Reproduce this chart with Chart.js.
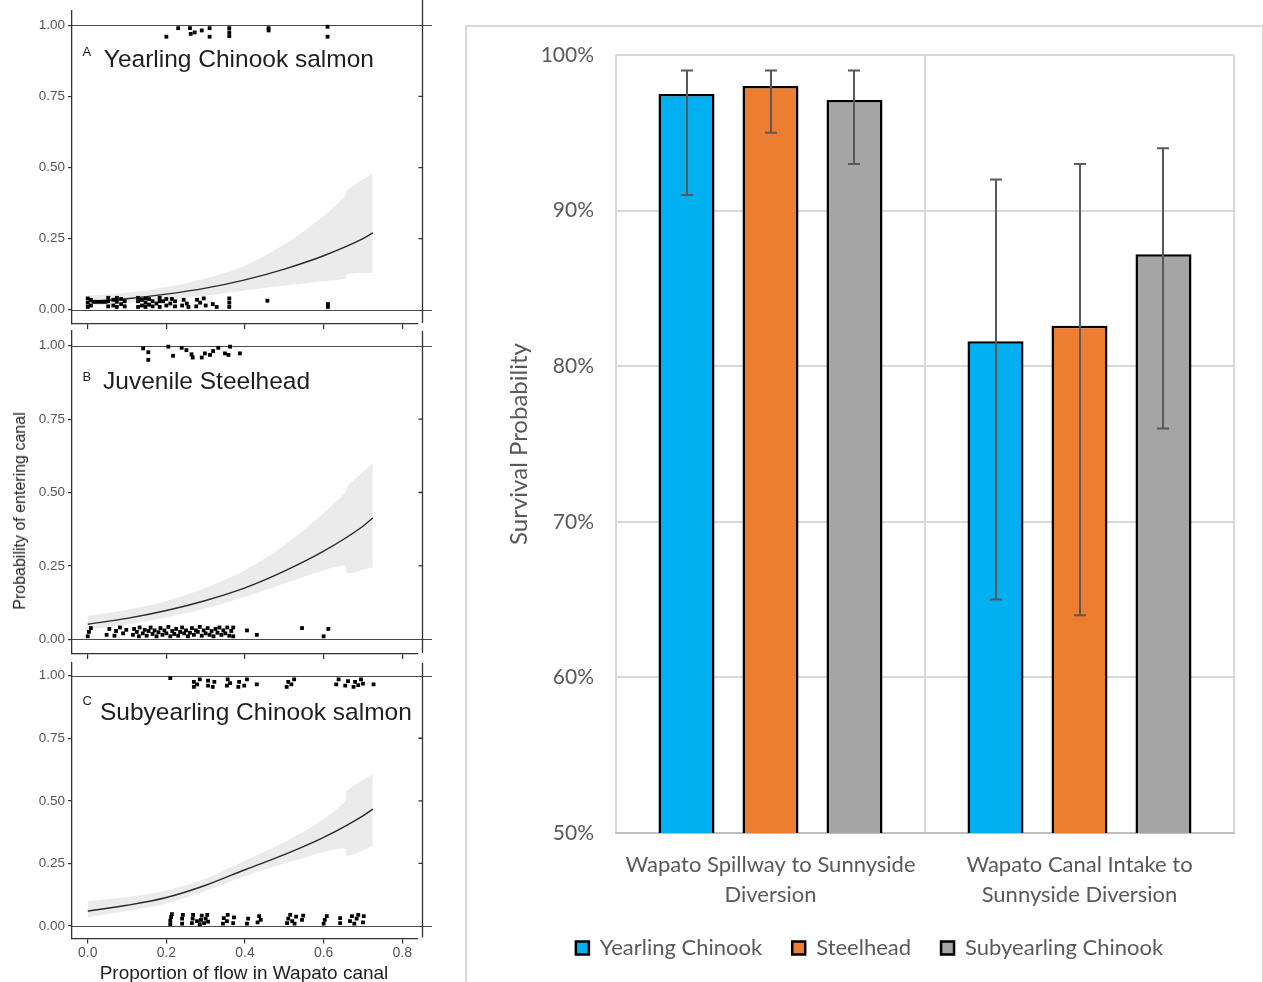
<!DOCTYPE html>
<html>
<head>
<meta charset="utf-8">
<title>Canal entry probability and survival</title>
<script src="https://cdn.jsdelivr.net/npm/chart.js@4.4.1/dist/chart.umd.min.js"></script>
<style>
  html, body { margin: 0; padding: 0; background: #fff; width: 1263px; height: 982px; overflow: hidden; }
  canvas, .txt, #frame { position: absolute; }
  .soft { filter: blur(0.45px); }
  #frame { left: 465px; top: 25px; width: 795px; height: 1000px; border: 2px solid #d9d9d9; }
  .txt { font-family: "Liberation Sans", Arial, sans-serif; color: #1e1e1e; white-space: nowrap; }
  #probTitle { left: 20px; top: 511px; font-size: 16px; transform: translate(-50%, -50%) rotate(-90deg); }
  #flowTitle { left: 244px; top: 973px; font-size: 19px; transform: translate(-50%, -50%); }
</style>
</head>
<body>
<div id="frame"></div>
<canvas id="panelA" class="soft" width="432" height="336" style="left:0;top:0"></canvas>
<canvas id="panelB" class="soft" width="432" height="345" style="left:0;top:320px"></canvas>
<canvas id="panelC" class="soft" width="432" height="330" style="left:0;top:652px"></canvas>
<div id="probTitle" class="txt soft">Probability of entering canal</div>
<div id="flowTitle" class="txt soft">Proportion of flow in Wapato canal</div>
<canvas id="survival" width="797" height="943" style="left:466px;top:26px"></canvas>

<script>
// ---- Canal entry panels: axis ticks ----
const flowTicks = [0, 0.2, 0.4, 0.6, 0.8];
const flowTickLabels = ['0.0', '0.2', '0.4', '0.6', '0.8'];
const probTicks = [0, 0.25, 0.5, 0.75, 1];
const probTickLabels = ['0.00', '0.25', '0.50', '0.75', '1.00'];

// ---- Fitted logistic curves (probability of entering canal) ----
const fitFlow = [0, 0.1, 0.2, 0.3, 0.4, 0.5, 0.6, 0.7, 0.725];
const yearlingFit    = [0.028, 0.039, 0.055, 0.076, 0.105, 0.143, 0.190, 0.250, 0.270];
const steelheadFit   = [0.051, 0.071, 0.098, 0.132, 0.175, 0.232, 0.300, 0.385, 0.413];
const subyearlingFit = [0.060, 0.083, 0.114, 0.163, 0.225, 0.285, 0.354, 0.440, 0.467];

// ---- Confidence bands ----
const bandFlow = [0, 0.1, 0.2, 0.3, 0.4, 0.5, 0.6, 0.655, 0.66, 0.725];
const yearlingLower    = [0.015, 0.024, 0.035, 0.050, 0.068, 0.085, 0.100, 0.110, 0.125, 0.130];
const yearlingUpper    = [0.050, 0.060, 0.080, 0.110, 0.155, 0.230, 0.330, 0.400, 0.420, 0.480];
const steelheadLower   = [0.032, 0.050, 0.075, 0.105, 0.145, 0.190, 0.235, 0.250, 0.225, 0.245];
const steelheadUpper   = [0.080, 0.100, 0.130, 0.175, 0.235, 0.320, 0.430, 0.500, 0.520, 0.600];
const subyearlingLower = [0.035, 0.060, 0.090, 0.140, 0.200, 0.250, 0.295, 0.310, 0.280, 0.320];
const subyearlingUpper = [0.100, 0.115, 0.143, 0.190, 0.262, 0.335, 0.427, 0.500, 0.540, 0.606];

// ---- Individual fish: [flow proportion, jittered outcome] ----
const yearlingEntered = [[0.200,0.960],[0.230,0.990],[0.260,0.990],[0.262,0.970],[0.272,0.975],[0.290,0.982],
  [0.310,0.990],[0.310,0.960],[0.360,0.990],[0.360,0.975],[0.360,0.962],[0.460,0.990],[0.460,0.982],
  [0.610,0.995],[0.610,0.960]];
const yearlingStayed = [[0.000,0.010],[0.000,0.025],[0.000,0.040],[0.008,0.015],[0.008,0.035],[0.015,0.028],
  [0.022,0.028],[0.030,0.028],[0.038,0.028],[0.045,0.028],[0.052,0.012],[0.052,0.030],[0.052,0.042],
  [0.065,0.015],[0.065,0.035],[0.074,0.010],[0.074,0.028],[0.074,0.042],[0.085,0.020],[0.085,0.038],
  [0.094,0.012],[0.094,0.030],[0.128,0.010],[0.128,0.030],[0.128,0.042],[0.138,0.015],[0.138,0.035],
  [0.147,0.010],[0.147,0.025],[0.147,0.040],[0.156,0.018],[0.156,0.038],[0.165,0.012],[0.165,0.030],
  [0.175,0.022],[0.183,0.010],[0.183,0.030],[0.183,0.042],[0.192,0.030],[0.200,0.015],[0.200,0.038],
  [0.210,0.022],[0.214,0.038],[0.222,0.012],[0.222,0.030],[0.240,0.015],[0.244,0.035],[0.252,0.022],
  [0.256,0.010],[0.276,0.012],[0.278,0.035],[0.286,0.025],[0.295,0.040],[0.300,0.015],[0.318,0.020],
  [0.328,0.010],[0.360,0.010],[0.360,0.025],[0.360,0.040],[0.457,0.032],[0.611,0.010],[0.611,0.020]];

const steelheadEntered = [[0.141,0.991],[0.154,0.978],[0.154,0.952],[0.205,0.997],[0.217,0.966],[0.239,0.993],
  [0.251,0.985],[0.264,0.971],[0.267,0.960],[0.290,0.960],[0.298,0.974],[0.311,0.969],[0.319,0.982],
  [0.332,0.993],[0.349,0.974],[0.358,0.969],[0.362,0.997],[0.387,0.974]];
const steelheadStayed = [[0.000,0.010],[0.003,0.025],[0.008,0.038],[0.048,0.015],[0.055,0.035],[0.068,0.012],
  [0.072,0.028],[0.082,0.040],[0.090,0.020],[0.098,0.032],[0.115,0.015],[0.118,0.035],[0.125,0.025],
  [0.130,0.010],[0.132,0.040],[0.140,0.020],[0.145,0.032],[0.150,0.012],[0.155,0.028],[0.160,0.040],
  [0.165,0.018],[0.170,0.030],[0.175,0.010],[0.180,0.024],[0.185,0.038],[0.190,0.015],[0.195,0.030],
  [0.200,0.020],[0.205,0.042],[0.210,0.010],[0.215,0.028],[0.220,0.018],[0.225,0.035],[0.230,0.012],
  [0.235,0.025],[0.240,0.040],[0.245,0.020],[0.250,0.030],[0.255,0.010],[0.260,0.022],[0.265,0.038],
  [0.270,0.015],[0.275,0.030],[0.280,0.025],[0.285,0.042],[0.290,0.012],[0.295,0.030],[0.300,0.020],
  [0.305,0.038],[0.310,0.015],[0.315,0.028],[0.320,0.010],[0.325,0.035],[0.330,0.022],[0.335,0.040],
  [0.340,0.015],[0.345,0.030],[0.350,0.020],[0.355,0.040],[0.360,0.012],[0.365,0.028],[0.370,0.040],
  [0.370,0.010],[0.405,0.030],[0.430,0.015],[0.545,0.038],[0.600,0.010],[0.612,0.035]];

const subyearlingEntered = [[0.210,0.990],[0.270,0.955],[0.270,0.975],[0.278,0.965],[0.285,0.985],[0.306,0.960],
  [0.306,0.980],[0.318,0.955],[0.322,0.975],[0.354,0.960],[0.356,0.985],[0.362,0.970],[0.383,0.955],
  [0.385,0.975],[0.398,0.960],[0.405,0.985],[0.430,0.965],[0.506,0.955],[0.510,0.975],[0.518,0.965],
  [0.525,0.985],[0.632,0.965],[0.638,0.985],[0.655,0.960],[0.662,0.978],[0.676,0.955],[0.680,0.975],
  [0.688,0.962],[0.695,0.985],[0.700,0.968],[0.727,0.965]];
const subyearlingStayed = [[0.210,0.008],[0.210,0.022],[0.212,0.036],[0.214,0.048],[0.240,0.010],[0.240,0.030],
  [0.242,0.045],[0.265,0.012],[0.267,0.030],[0.268,0.045],[0.278,0.020],[0.285,0.008],[0.288,0.025],
  [0.290,0.042],[0.296,0.012],[0.300,0.030],[0.304,0.045],[0.306,0.018],[0.344,0.010],[0.346,0.032],
  [0.354,0.020],[0.356,0.045],[0.370,0.012],[0.372,0.035],[0.405,0.010],[0.408,0.030],[0.432,0.015],
  [0.436,0.040],[0.440,0.025],[0.507,0.012],[0.510,0.030],[0.515,0.045],[0.520,0.020],[0.526,0.010],
  [0.530,0.038],[0.545,0.025],[0.548,0.042],[0.600,0.010],[0.603,0.025],[0.608,0.040],[0.642,0.012],
  [0.642,0.032],[0.667,0.020],[0.672,0.040],[0.678,0.010],[0.684,0.030],[0.688,0.045],[0.700,0.015],
  [0.702,0.040]];

// ---- Survival bar chart ----
const routes = [['Wapato Spillway to Sunnyside', 'Diversion'], ['Wapato Canal Intake to', 'Sunnyside Diversion']];
const groups = ['Yearling Chinook', 'Steelhead', 'Subyearling Chinook'];
const yearlingSurvival    = [97.5, 81.6];
const steelheadSurvival   = [98.0, 82.6];
const subyearlingSurvival = [97.1, 87.2];
const yearlingLow  = [91, 65],  yearlingHigh  = [99, 92];
const steelheadLow = [95, 64],  steelheadHigh = [99, 93];
const subyearlingLow = [93, 76], subyearlingHigh = [99, 94];

const sans = '"Liberation Sans", Arial, sans-serif';

function xy(xs, ys) { return xs.map((x, i) => ({ x: x, y: ys[i] })); }
function dots(list) { return list.map(p => ({ x: p[0], y: p[1] })); }

// Horizontal reference lines at 0 and 1 running to the panel edge, plus the frame on the right.
const panelFrame = {
  id: 'panelFrame',
  beforeDatasetsDraw(chart) {
    const { ctx, chartArea, scales } = chart;
    ctx.save();
    ctx.strokeStyle = '#4a4a4a';
    ctx.lineWidth = 1.1;
    [0, 1].forEach(v => {
      const y = Math.round(scales.y.getPixelForValue(v)) + 0.5;
      ctx.beginPath();
      ctx.moveTo(chartArea.left, y);
      ctx.lineTo(chart.width, y);
      ctx.stroke();
    });
    ctx.restore();
  },
  afterDraw(chart, args, opts) {
    const { ctx, chartArea, scales } = chart;
    const x = 422.5;
    ctx.save();
    ctx.strokeStyle = '#333';
    ctx.lineWidth = 1.3;
    ctx.beginPath();
    ctx.moveTo(x, opts.fromTop ? 0 : chartArea.top);
    ctx.lineTo(x, chartArea.bottom - 1);
    [0.25, 0.5, 0.75].forEach(v => {
      const y = scales.y.getPixelForValue(v);
      ctx.moveTo(x - 4, y);
      ctx.lineTo(x, y);
    });
    ctx.stroke();
    ctx.restore();
  }
};

// Species label inside each panel.
const panelLabel = {
  id: 'panelLabel',
  afterDatasetsDraw(chart, args, opts) {
    const { ctx, scales } = chart;
    ctx.save();
    ctx.fillStyle = '#1e1e1e';
    ctx.textBaseline = 'alphabetic';
    ctx.textAlign = 'left';
    ctx.font = '13px ' + sans;
    ctx.fillText(opts.letter, scales.x.getPixelForValue(-0.013), scales.y.getPixelForValue(opts.letterY));
    ctx.font = '24.5px ' + sans;
    ctx.fillText(opts.title, scales.x.getPixelForValue(opts.titleX), scales.y.getPixelForValue(opts.titleY));
    ctx.restore();
  }
};

function makePanel(id, cfg) {
  const pointStyle = { pointStyle: 'rect', pointRadius: 2.7, backgroundColor: '#000', borderWidth: 0, borderColor: 'rgba(0,0,0,0)' };
  new Chart(document.getElementById(id), {
    type: 'scatter',
    data: {
      datasets: [
        { type: 'line', data: xy(bandFlow, cfg.lower), borderColor: 'rgba(0,0,0,0)', borderWidth: 0,
          pointRadius: 0, fill: false, order: 4, tension: 0.3 },
        { type: 'line', data: xy(bandFlow, cfg.upper), borderColor: 'rgba(0,0,0,0)', borderWidth: 0,
          pointRadius: 0, fill: '-1', backgroundColor: '#ebebeb', order: 3, tension: 0.3 },
        { type: 'line', data: xy(fitFlow, cfg.fit), borderColor: '#2a2a2a', borderWidth: 1.4,
          pointRadius: 0, fill: false, cubicInterpolationMode: 'monotone', order: 2 },
        Object.assign({ data: dots(cfg.stayed), order: 1 }, pointStyle),
        Object.assign({ data: dots(cfg.entered), order: 0 }, pointStyle)
      ]
    },
    options: {
      responsive: false,
      animation: false,
      events: [],
      layout: { padding: { top: cfg.padTop, right: 14, left: 0, bottom: 0 } },
      scales: {
        x: {
          type: 'linear', min: -0.04, max: 0.84,
          afterBuildTicks: s => { s.ticks = flowTicks.map(v => ({ value: v })); },
          afterFit: s => { s.height = cfg.xHeight; },
          ticks: {
            autoSkip: false, maxRotation: 0, padding: 1, color: '#555',
            font: { family: sans, size: 14 },
            callback: (v, i) => cfg.flowLabels ? flowTickLabels[i] : ''
          },
          grid: { drawOnChartArea: false, drawTicks: true, tickLength: 5, color: '#333', lineWidth: 1.2 },
          border: { display: true, color: '#333', width: 1.3 }
        },
        y: {
          type: 'linear', min: -0.05, max: 1.05,
          afterBuildTicks: s => { s.ticks = probTicks.map(v => ({ value: v })); },
          afterFit: s => { s.width = 72; },
          ticks: {
            autoSkip: false, padding: 3, color: '#555',
            font: { family: sans, size: 13.5 },
            callback: (v, i) => probTickLabels[i]
          },
          grid: { drawOnChartArea: false, drawTicks: true, tickLength: 4, color: '#333', lineWidth: 1.2 },
          border: { display: true, color: '#333', width: 1.3 }
        }
      },
      plugins: {
        legend: { display: false },
        tooltip: { enabled: false },
        panelFrame: { fromTop: cfg.fromTop },
        panelLabel: cfg.label
      }
    },
    plugins: [panelFrame, panelLabel]
  });
}

makePanel('panelA', {
  fit: yearlingFit, lower: yearlingLower, upper: yearlingUpper,
  stayed: yearlingStayed, entered: yearlingEntered,
  padTop: 6.5, xHeight: 12, flowLabels: false, fromTop: true,
  label: { letter: 'A', letterY: 0.893, title: 'Yearling Chinook salmon', titleX: 0.041, titleY: 0.854 }
});
makePanel('panelB', {
  fit: steelheadFit, lower: steelheadLower, upper: steelheadUpper,
  stayed: steelheadStayed, entered: steelheadEntered,
  padTop: 9, xHeight: 9, flowLabels: false, fromTop: false,
  label: { letter: 'B', letterY: 0.879, title: 'Juvenile Steelhead', titleX: 0.039, titleY: 0.851 }
});
makePanel('panelC', {
  fit: subyearlingFit, lower: subyearlingLower, upper: subyearlingUpper,
  stayed: subyearlingStayed, entered: subyearlingEntered,
  padTop: 9.4, xHeight: 43.4, flowLabels: true, fromTop: false,
  label: { letter: 'C', letterY: 0.884, title: 'Subyearling Chinook salmon', titleX: 0.031, titleY: 0.824 }
});

// Error bars drawn over the survival bars from the interval arrays.
const errorBars = {
  id: 'errorBars',
  afterDatasetsDraw(chart, args, opts) {
    const { ctx, scales } = chart;
    ctx.save();
    ctx.strokeStyle = '#595959';
    ctx.lineWidth = 2;
    opts.ranges.forEach((range, d) => {
      const meta = chart.getDatasetMeta(d);
      meta.data.forEach((bar, i) => {
        const x = Math.round(bar.x);
        const yLo = scales.y.getPixelForValue(range[0][i]);
        const yHi = scales.y.getPixelForValue(range[1][i]);
        ctx.beginPath();
        ctx.moveTo(x, yLo); ctx.lineTo(x, yHi);
        ctx.moveTo(x - 6, yLo); ctx.lineTo(x + 6, yLo);
        ctx.moveTo(x - 6, yHi); ctx.lineTo(x + 6, yHi);
        ctx.stroke();
      });
    });
    ctx.restore();
  }
};

const barStyle = { borderColor: '#000', borderWidth: 2.5, borderSkipped: false };
new Chart(document.getElementById('survival'), {
  type: 'bar',
  data: {
    labels: routes,
    datasets: [
      Object.assign({ label: groups[0], data: yearlingSurvival, backgroundColor: '#00B0F0' }, barStyle),
      Object.assign({ label: groups[1], data: steelheadSurvival, backgroundColor: '#ED7D31' }, barStyle),
      Object.assign({ label: groups[2], data: subyearlingSurvival, backgroundColor: '#A5A5A5' }, barStyle)
    ]
  },
  options: {
    responsive: false,
    animation: false,
    events: [],
    layout: { padding: { left: 39, right: 29, top: 29, bottom: 0 } },
    datasets: { bar: { categoryPercentage: 0.8155, barPercentage: 0.667 } },
    scales: {
      x: {
        afterFit: s => { s.height = 74; },
        grid: { offset: true, color: '#d9d9d9', lineWidth: 2, drawTicks: false },
        border: { display: true, color: '#bfbfbf', width: 2 },
        ticks: { color: '#595959', font: { family: 'Lato', size: 22, lineHeight: 1.364 }, padding: 17,
                 maxRotation: 0, autoSkip: false }
      },
      y: {
        min: 50, max: 100,
        afterFit: s => { s.width = 111; },
        ticks: { stepSize: 10, callback: v => v + '%', color: '#595959',
                 font: { family: 'Lato', size: 21 }, padding: 10 },
        grid: { color: '#d9d9d9', lineWidth: 2, drawTicks: true, tickLength: 12, tickColor: 'rgba(0,0,0,0)' },
        border: { display: false },
        title: { display: true, text: 'Survival Probability', color: '#595959',
                 font: { family: 'Lato', size: 24 }, padding: { top: 0, bottom: 0 } }
      }
    },
    plugins: {
      legend: {
        position: 'bottom',
        labels: { color: '#595959', font: { family: 'Lato', size: 22 }, boxWidth: 13, boxHeight: 13, padding: 30 }
      },
      tooltip: { enabled: false },
      errorBars: {
        ranges: [[yearlingLow, yearlingHigh], [steelheadLow, steelheadHigh], [subyearlingLow, subyearlingHigh]]
      }
    }
  },
  plugins: [errorBars]
});
</script>
</body>
</html>
